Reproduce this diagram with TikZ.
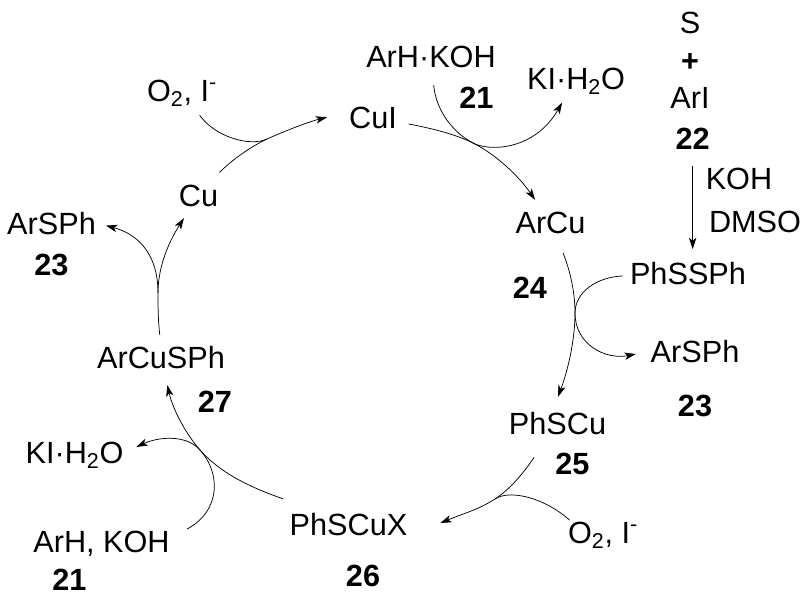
\documentclass[tikz,border=0pt]{standalone}
\usepackage{fontspec}
\setmainfont{Liberation Sans}
\usetikzlibrary{arrows.meta,positioning}
\tikzset{
	spec/.style={inner sep=1pt,outer sep=0pt,text height=16.2pt,text depth=0pt,font=\fontsize{23}{27}\selectfont},
	num/.style={spec,font=\fontsize{23}{27}\selectfont\bfseries},
	rxn/.style={->,line width=0.55pt}
}
\begin{document}
\begin{tikzpicture}[x=0.75pt,y=-0.75pt,on grid,>={Stealth[length=8.5pt,width=5.5pt,inset=2.2pt]}]
	\useasboundingbox (0,0) rectangle (811,609);
	\node[spec] (cui) at (373,117.3) {CuI};
	\node[spec] (arcu) at (550.5,222.3) {ArCu};
	\node[spec] (phscu) at (557.5,423.3) {PhSCu};
	\node[spec] (phscux) at (348.5,524.3) {PhSCuX};
	\node[spec] (arcusph) at (161,357.3) {ArCuSPh};
	\node[spec] (cu) at (198.5,195.3) {Cu};
	\node[spec] (arh) at (431,56.3) {ArH·KOH};
	\node[spec] (kia) at (576,78.3) {KI·H\textsubscript{2}O};
	\node[spec] (o2a) at (182,90.3) {O\textsubscript{2}, I\textsuperscript{-}};
	\node[spec] (arspha) at (51.5,223.3) {ArSPh};
	\node[spec] (kib) at (74.5,452.3) {KI·H\textsubscript{2}O};
	\node[spec] (arhb) at (101.5,541.3) {ArH, KOH};
	\node[spec] (o2b) at (603,532.3) {O\textsubscript{2}, I\textsuperscript{-}};
	\node[spec] (phssph) at (688,273.3) {PhSSPh};
	\node[spec] (arsphb) at (695,351.3) {ArSPh};
	\node[spec] (sulfur) at (690,22.3) {S};
	\node[num] (plus) [below=28.5pt of sulfur] {+};
	\node[spec] (ari) [below=28pt of plus] {ArI};
	\node[num] (n22) [below right=31pt and 2pt of ari] {22};
	\node[spec] (koh) at (739,179) {KOH};
	\node[spec] (dmso) at (755,222) {DMSO};
	\node[num] (n21a) [below right=30.8pt and 34pt of arh] {21};
	\node[num] (n23a) [below=30.75pt of arspha] {23};
	\node[num] (n23b) [below=40.5pt of arsphb] {23};
	\node[num] (n24) [below left=48.75pt and 15.4pt of arcu] {24};
	\node[num] (n25) [below right=30pt and 11.25pt of phscu] {25};
	\node[num] (n26) [below right=38.25pt and 10.9pt of phscux] {26};
	\node[num] (n27) [below right=33pt and 40.5pt of arcusph] {27};
	\node[num] (n21b) [below left=28.5pt and 24pt of arhb] {21};
	\coordinate (mergea) at (473,143);
	\coordinate (mergeb) at (575,313);
	\coordinate (mergec) at (495,499);
	\coordinate (merged) at (200,450);
	\coordinate (mergee) at (158,293);
	\coordinate (mergef) at (267,139);
	\draw[rxn,shorten <=12.6pt,shorten >=10.5pt] (arh) .. controls (436,110) and (452,132) .. (mergea) .. controls (490,152) and (535,150) .. (kia);
	\draw[rxn,shorten <=8pt,shorten >=9.4pt] (cui) .. controls (430,128) and (455,134) .. (mergea) .. controls (495,154) and (518,175) .. (arcu);
	\draw[rxn,shorten <=11pt,shorten >=9pt] (n22) -- (n22 |- phssph.north);
	\draw[rxn,shorten <=15pt,shorten >=11.5pt] (arcu) .. controls (570,270) and (575,292) .. (mergeb) .. controls (575,340) and (568,370) .. (phscu.112);
	\draw[rxn,shorten <=4.5pt,shorten >=10.3pt] (phssph) .. controls (597,277) and (575,292) .. (mergeb) .. controls (575,345) and (606,360) .. (arsphb.west);
	\draw[rxn,shorten <=20pt,shorten >=25.8pt] (phscu) .. controls (522,475) and (510,489) .. (mergec) .. controls (480,509) and (462,514) .. (phscux.south east);
	\draw[line width=0.55pt] (o2b.160) .. controls (545,498) and (510,489) .. (mergec);
	\draw[rxn,shorten >=12pt] ([xshift=-4pt,yshift=10pt]phscux.north west) .. controls (255,489) and (222,475) .. (merged) .. controls (186,434) and (173,410) .. (arcusph);
	\draw[rxn,shorten >=9.6pt] ([xshift=12pt]arhb.north east) .. controls (222,510) and (220,472) .. (merged) .. controls (186,434) and (158,437) .. (kib.east);
	\draw[rxn,shorten <=7.8pt,shorten >=9.5pt] (arcusph.north) .. controls (158,320) and (158,305) .. (mergee) .. controls (158,265) and (170,240) .. (cu);
	\draw[rxn,shorten >=6.75pt] (mergee) .. controls (158,250) and (134,233) .. (arspha.east);
	\draw[rxn,shorten >=16pt] ([yshift=8pt]cu.north east) .. controls (232,160) and (250,147) .. (mergef) .. controls (285,131) and (308,122) .. (cui.168);
	\draw[line width=0.55pt,shorten <=11.7pt] (o2a) .. controls (215,137) and (250,147) .. (mergef);
\end{tikzpicture}
\end{document}
